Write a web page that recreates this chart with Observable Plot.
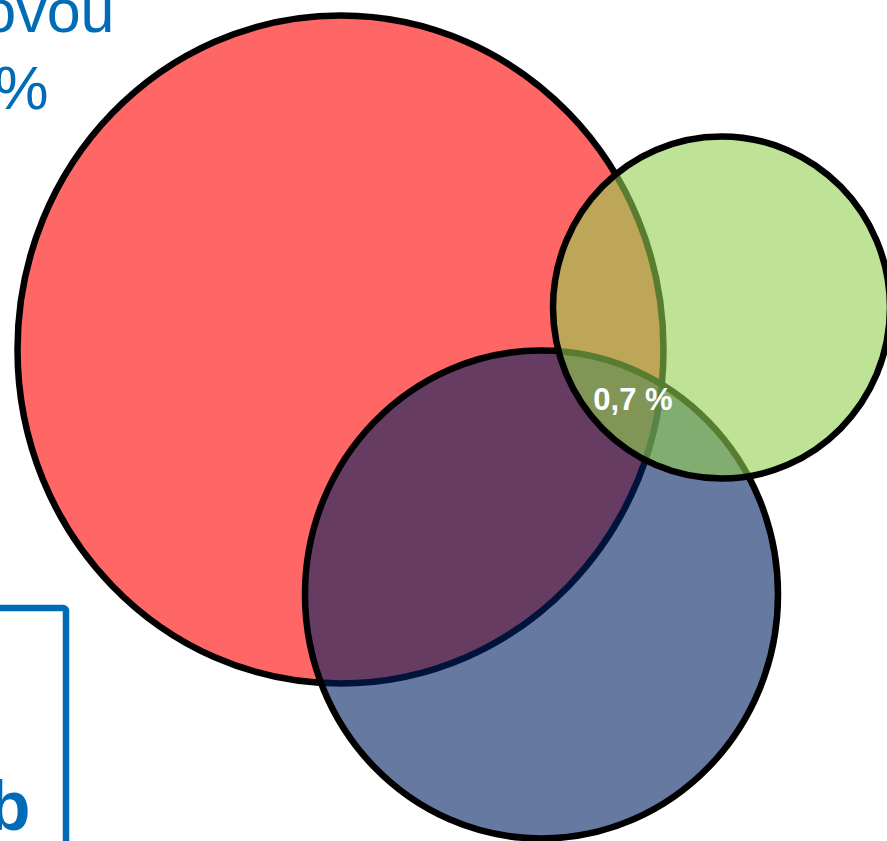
<!DOCTYPE html>
<html>
<head>
<meta charset="utf-8">
<script src="https://cdn.jsdelivr.net/npm/d3@7"></script>
<script src="https://cdn.jsdelivr.net/npm/@observablehq/plot@0.6"></script>
<style>
  html, body { margin: 0; padding: 0; background: #fff; overflow: hidden; }
  #chart svg { display: block; }
</style>
</head>
<body>
<div id="chart"></div>
<script>
// Venn sets (order = drawing order)
const setNames = ["A", "B", "C"];
const setCx = [340, 541, 721];
const setCy = [349, 594, 307];
const setRx = [323, 236.5, 168.5];
const setRy = [334, 244, 171];
const setColors = ["#FF0000", "#002060", "#92D050"];

// intersection label
const labelText = ["0,7 %"];
const labelX = [632.5];
const labelY = [409];

// partially visible surrounding text
const noteLines = ["ovou", "%"];
const noteX = [114, 48];
const noteY = [31, 108];
const boxText = ["b"];

const W = 887, H = 841;
const BLUE = "#006BB6";

const sets = setNames.map((name, i) => ({
  name, cx: setCx[i], cy: setCy[i], rx: setRx[i], ry: setRy[i], color: setColors[i]
}));

function ellipseSymbol(aspect) {
  const k = 0.5522847498;
  return {
    draw(ctx, size) {
      const rx = Math.sqrt(size / Math.PI);
      const ry = rx * aspect;
      ctx.moveTo(rx, 0);
      ctx.bezierCurveTo(rx, k * ry, k * rx, ry, 0, ry);
      ctx.bezierCurveTo(-k * rx, ry, -rx, k * ry, -rx, 0);
      ctx.bezierCurveTo(-rx, -k * ry, -k * rx, -ry, 0, -ry);
      ctx.bezierCurveTo(k * rx, -ry, rx, -k * ry, rx, 0);
      ctx.closePath();
    }
  };
}

const labels = labelText.map((t, i) => ({t, x: labelX[i], y: labelY[i]}));
const notes = noteLines.map((t, i) => ({t, x: noteX[i], y: noteY[i]}));

const chart = Plot.plot({
  width: W,
  height: H,
  margin: 0,
  x: {type: "linear", domain: [0, W], range: [0, W], axis: null},
  y: {type: "linear", domain: [0, H], range: [0, H], axis: null},
  r: {type: "identity"},
  symbol: {type: "identity"},
  style: {fontFamily: "'Liberation Sans', Arial, sans-serif", background: "#fff"},
  marks: [
    Plot.rect([{x1: -30, x2: 66, y1: 608, y2: 900}], {
      x1: "x1", x2: "x2", y1: "y1", y2: "y2",
      fill: "none", stroke: BLUE, strokeWidth: 6.5, rx: 3
    }),
    Plot.text(boxText, {
      x: () => 30, y: () => 829, text: d => d,
      textAnchor: "end", lineAnchor: "bottom",
      fontSize: 70, fontWeight: "bold", fill: BLUE
    }),
    Plot.text(notes, {
      x: "x", y: "y", text: "t",
      textAnchor: "end", lineAnchor: "bottom",
      fontSize: 61, fill: BLUE
    }),
    Plot.dot(sets, {
      x: "cx", y: "cy", r: "rx",
      symbol: d => ellipseSymbol(d.ry / d.rx),
      fill: "color", fillOpacity: 0.6,
      stroke: "#000", strokeWidth: 6.5,
      sort: null
    }),
    Plot.text(labels, {
      x: "x", y: "y", text: "t",
      textAnchor: "middle", lineAnchor: "bottom",
      fontSize: 31, fontWeight: "bold", fill: "#fff"
    })
  ]
});

document.getElementById("chart").appendChild(chart);
</script>
</body>
</html>
